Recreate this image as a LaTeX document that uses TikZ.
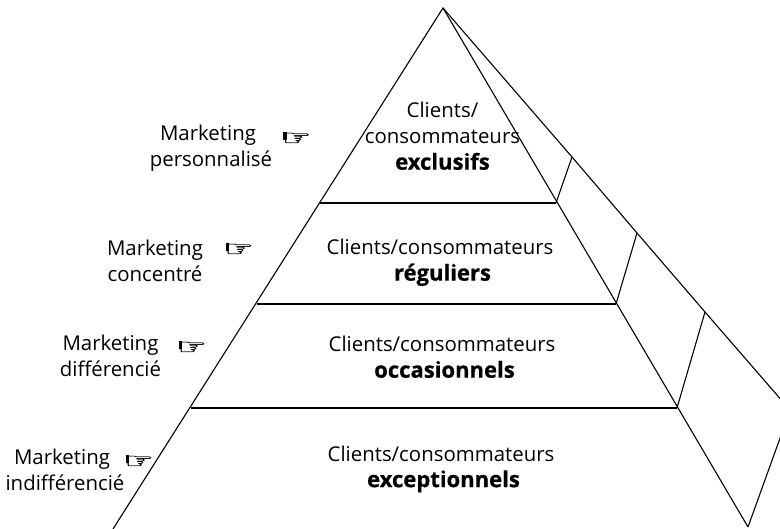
\documentclass[tikz,border=0pt]{standalone}
\usepackage{fontspec}
\setmainfont{Open Sans}[BoldFeatures={FakeBold=0.6,Scale=1.08}]
\newfontfamily\handfont{DejaVu Sans}[FakeBold=0.8]
\tikzset{
  edge/.style={draw=black,line width=1.1pt},
  label/.style={align=center,inner sep=0pt,font=\fontsize{20.4}{26}\selectfont,text=black},
  hand/.style={inner sep=0pt,font=\handfont\fontsize{30}{30}\selectfont,xscale=1.12,yscale=0.72,transform shape},
}
\newcommand{\shiftbold}[1]{\hspace*{5pt}\textbf{#1}}
\begin{document}
\begin{tikzpicture}[x=1pt,y=-1pt]
\useasboundingbox (0,0) rectangle (780,529);
\coordinate (apex) at (443,8);
\coordinate (bl) at (113,529);
\coordinate (br) at (748,527);
\coordinate (l1) at (320,203); \coordinate (r1) at (556,203);
\coordinate (l2) at (257,304); \coordinate (r2) at (616,304);
\coordinate (l3) at (191,408); \coordinate (r3) at (677,408);
\coordinate (o1) at (572,157); \coordinate (o2) at (637,233); \coordinate (o3) at (705,312);
\coordinate (o4) at (790,410);
\begin{scope}
\clip (0,0) rectangle (780,529);
\draw[edge] (bl) -- (apex) -- (br);
\draw[edge] (apex) -- (o1) -- (o2) -- (o3) -- (o4);
\draw[edge] (l1) -- (r1);
\draw[edge] (l2) -- (r2);
\draw[edge] (l3) -- (r3);
\draw[edge] (r1) -- (o1);
\draw[edge] (r2) -- (o2);
\draw[edge] (r3) -- (o3);
\draw[edge] (br) -- (792,405);
\end{scope}
\node[label] (t1) at (442.5,136) {Clients/\\consommateurs\\\textbf{exclusifs}};
\node[label] (t2) at (440,262.5) {Clients/consommateurs\\\shiftbold{réguliers}};
\node[label] (t3) at (442,357) {Clients/consommateurs\\\shiftbold{occasionnels}};
\node[label] (t4) at (441,469) {Clients/consommateurs\\\shiftbold{exceptionnels}};
\node[label] (m1) at (211,148) {Marketing\hspace*{6pt}\\personnalisé};
\node[label] (m2) at (155,261) {Marketing\\concentré};
\node[label] (m3) at (110.5,356) {Marketing\\différencié};
\node[label] (m4) at (65,470) {Marketing\hspace*{6pt}\\indifférencié};
\node[hand] (h1) at (296.5,139) {☞};
\node[hand] (h2) at (239,250) {☞};
\node[hand] (h3) at (192,348) {☞};
\node[hand] (h4) at (139,462) {☞};
\foreach \h in {h1,h2,h3,h4}{
  \fill ([xshift=2pt,yshift=6.5pt]\h.west) rectangle +(3.5,8);
}
\end{tikzpicture}
\end{document}
